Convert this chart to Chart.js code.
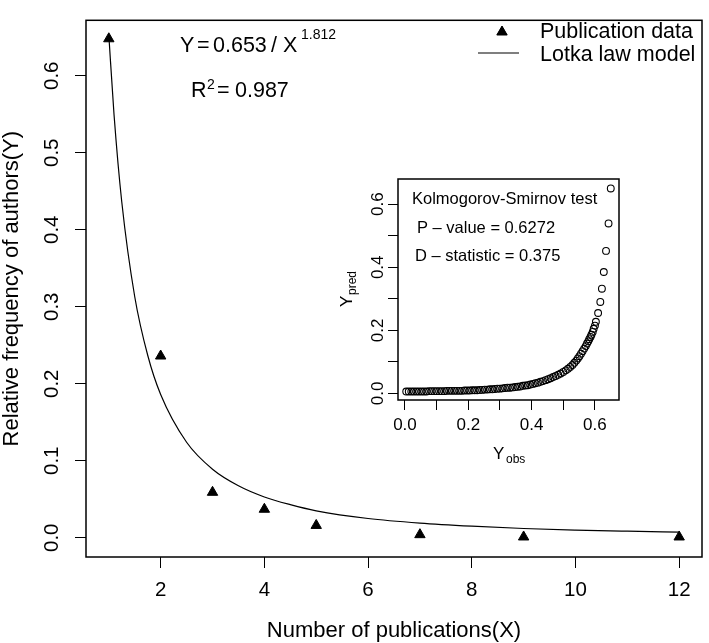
<!DOCTYPE html>
<html>
<head>
    <title>Lotka law fit</title>
    <script src="https://cdn.jsdelivr.net/npm/chart.js@4.4.1/dist/chart.umd.min.js"></script>
    <style>
        body { margin: 0; background: #fff; }
        #wrap { position: relative; width: 709px; height: 643px; }
        #main { position: absolute; left: 0; top: 0; }
        #inset { position: absolute; left: 330px; top: 170px; }
    </style>
</head>
<body>
    <div id="wrap">
        <canvas id="main" width="709" height="643"></canvas>
        <canvas id="inset" width="300" height="300"></canvas>
    </div>

    <script>
        // observed data
        const pubX = [1, 2, 3, 4, 5, 7, 9, 12];
        const pubY = [0.648, 0.236, 0.059, 0.037, 0.016, 0.004, 0.001, 0.001];

        // model curve
        const modelX = [1, 1.1, 1.25, 1.5, 1.75, 2, 2.5, 3, 3.5, 4, 4.5, 5, 6, 7, 8, 9, 10, 11, 12];
        const modelY = [0.653, 0.550, 0.436, 0.313, 0.237, 0.186, 0.124, 0.089, 0.0675, 0.053, 0.043, 0.035,
                        0.025, 0.019, 0.015, 0.012, 0.010, 0.0085, 0.0072];

        const xTicks = [2, 4, 6, 8, 10, 12];
        const yTicks = [0, 0.1, 0.2, 0.3, 0.4, 0.5, 0.6];

        // inset: Kolmogorov-Smirnov plot
        const ksObs = [0.004, 0.012, 0.020, 0.028, 0.036, 0.044, 0.052, 0.060, 0.068, 0.076, 0.084, 0.092,
                       0.100, 0.108, 0.116, 0.124, 0.132, 0.140, 0.148, 0.156, 0.164, 0.172, 0.180, 0.188,
                       0.196, 0.204, 0.212, 0.220, 0.228, 0.236, 0.244, 0.252, 0.260, 0.268, 0.276, 0.284,
                       0.292, 0.300, 0.308, 0.316, 0.324, 0.332, 0.340, 0.348, 0.356, 0.364, 0.372, 0.380,
                       0.388, 0.396, 0.404, 0.412, 0.420, 0.428, 0.436, 0.444, 0.452, 0.460, 0.468, 0.476,
                       0.484, 0.492, 0.500, 0.508, 0.515, 0.522, 0.529, 0.535, 0.541, 0.546, 0.551, 0.556,
                       0.561, 0.566, 0.571, 0.575, 0.579, 0.582, 0.586, 0.589, 0.593, 0.596, 0.600, 0.603,
                       0.610, 0.617, 0.622, 0.628, 0.635, 0.643, 0.650];
        const ksPred = [0.006, 0.006, 0.006, 0.006, 0.006, 0.006, 0.006, 0.006, 0.006, 0.007, 0.007, 0.007,
                        0.007, 0.007, 0.007, 0.007, 0.008, 0.008, 0.008, 0.008, 0.008, 0.008, 0.008, 0.009,
                        0.009, 0.009, 0.010, 0.010, 0.010, 0.011, 0.011, 0.012, 0.012, 0.013, 0.013, 0.014,
                        0.015, 0.015, 0.016, 0.017, 0.018, 0.018, 0.019, 0.020, 0.021, 0.022, 0.024, 0.025,
                        0.026, 0.028, 0.030, 0.032, 0.034, 0.037, 0.039, 0.042, 0.045, 0.048, 0.052, 0.055,
                        0.059, 0.063, 0.068, 0.073, 0.078, 0.084, 0.090, 0.097, 0.104, 0.111, 0.118, 0.126,
                        0.134, 0.142, 0.150, 0.158, 0.165, 0.172, 0.179, 0.186, 0.195, 0.205, 0.215, 0.227,
                        0.255, 0.290, 0.332, 0.385, 0.452, 0.539, 0.650];
        const insetTicks = [0, 0.1, 0.2, 0.3, 0.4, 0.5, 0.6];

        const FONT = "'Liberation Sans', Arial, sans-serif";
        const font = (size) => size + 'px ' + FONT;

        // box round the plot region, like R's bty="o"
        function drawBox(chart, lw) {
            const { ctx, chartArea: a } = chart;
            ctx.save();
            ctx.strokeStyle = '#000';
            ctx.lineWidth = lw;
            ctx.strokeRect(a.left, a.top, a.right - a.left, a.bottom - a.top);
            ctx.restore();
        }

        const mainDecor = {
            id: 'mainDecor',
            afterDraw(chart) {
                drawBox(chart, 1.5);
                const ctx = chart.ctx;
                ctx.save();
                ctx.fillStyle = '#000';
                ctx.textBaseline = 'alphabetic';
                ctx.textAlign = 'left';

                // equation
                ctx.font = font(21.5);
                ctx.fillText('Y', 180, 52);
                ctx.fillText('=', 197, 52);
                ctx.fillText('0.653', 213, 52);
                ctx.fillText('/', 271, 52);
                ctx.fillText('X', 283, 52);
                ctx.font = font(14);
                ctx.fillText('1.812', 301, 39);

                ctx.font = font(21.5);
                ctx.fillText('R', 191, 97);
                ctx.fillText('=', 217, 97);
                ctx.fillText('0.987', 235, 97);
                ctx.font = font(14);
                ctx.fillText('2', 207, 89);

                // legend
                Chart.helpers.drawPoint(ctx, { pointStyle: 'triangle', radius: 6, borderWidth: 1 }, 502, 32);
                ctx.fill();
                ctx.beginPath();
                ctx.strokeStyle = '#000';
                ctx.lineWidth = 1.2;
                ctx.moveTo(478, 53);
                ctx.lineTo(519, 53);
                ctx.stroke();
                ctx.font = font(21.5);
                ctx.fillText('Publication data', 540, 38);
                ctx.fillText('Lotka law model', 540, 61);
                ctx.restore();
            }
        };

        new Chart(document.getElementById('main'), {
            type: 'scatter',
            data: {
                datasets: [{
                    label: 'Lotka law model',
                    data: modelX.map((x, i) => ({ x: x, y: modelY[i] })),
                    showLine: true,
                    pointRadius: 0,
                    borderColor: '#000',
                    borderWidth: 1.2,
                    cubicInterpolationMode: 'monotone',
                    order: 2
                }, {
                    label: 'Publication data',
                    data: pubX.map((x, i) => ({ x: x, y: pubY[i] })),
                    pointStyle: 'triangle',
                    pointRadius: 6,
                    backgroundColor: '#000',
                    borderColor: '#000',
                    borderWidth: 1,
                    order: 1
                }]
            },
            options: {
                responsive: false,
                animation: false,
                layout: { padding: { top: 1, right: 1, left: 0, bottom: 0 } },
                plugins: { legend: { display: false }, tooltip: { enabled: false } },
                scales: {
                    x: {
                        type: 'linear', min: 0.56, max: 12.44,
                        afterBuildTicks: s => { s.ticks = xTicks.map(v => ({ value: v })); },
                        afterFit: s => { s.height = 86; },
                        grid: { drawOnChartArea: false, tickLength: 11, color: '#000', lineWidth: 1 },
                        border: { display: false },
                        ticks: { color: '#000', font: { family: FONT, size: 20.5 }, padding: 10, maxRotation: 0,
                                 callback: v => String(v) },
                        title: { display: true, text: 'Number of publications(X)', color: '#000',
                                 font: { family: FONT, size: 22, lineHeight: 1 }, padding: { top: 0, bottom: 1 } }
                    },
                    y: {
                        type: 'linear', min: -0.025, max: 0.672,
                        afterBuildTicks: s => { s.ticks = yTicks.map(v => ({ value: v })); },
                        afterFit: s => { s.width = 86; },
                        grid: { drawOnChartArea: false, tickLength: 11, color: '#000', lineWidth: 1 },
                        border: { display: false },
                        ticks: { color: '#000', font: { family: FONT, size: 20.5 }, padding: 8,
                                 minRotation: 90, maxRotation: 90, crossAlign: 'center',
                                 callback: v => v.toFixed(1) },
                        title: { display: true, text: 'Relative frequency of authors(Y)', color: '#000',
                                 font: { family: FONT, size: 22, lineHeight: 1 }, padding: { top: 1, bottom: 0 } }
                    }
                }
            },
            plugins: [mainDecor]
        });

        const insetDecor = {
            id: 'insetDecor',
            afterDraw(chart) {
                drawBox(chart, 1.5);
                const ctx = chart.ctx;
                ctx.save();
                ctx.fillStyle = '#000';
                ctx.textAlign = 'left';
                ctx.textBaseline = 'alphabetic';
                ctx.font = font(16.5);
                ctx.fillText('Kolmogorov-Smirnov test', 82, 34);
                ctx.fillText('P \u2013 value = 0.6272', 87, 63);
                ctx.fillText('D \u2013 statistic = 0.375', 85, 91);

                // x title Y_obs
                ctx.font = font(17);
                ctx.fillText('Y', 163, 289);
                ctx.font = font(12);
                ctx.fillText('obs', 176, 293);

                // y title Y_pred, rotated
                ctx.translate(22, 137);
                ctx.rotate(-Math.PI / 2);
                ctx.font = font(17);
                ctx.fillText('Y', 0, 0);
                ctx.font = font(12);
                ctx.fillText('pred', 12, 4);
                ctx.restore();
            }
        };

        new Chart(document.getElementById('inset'), {
            type: 'scatter',
            data: {
                datasets: [{
                    label: 'KS',
                    data: ksObs.map((x, i) => ({ x: x, y: ksPred[i] })),
                    pointStyle: 'circle',
                    pointRadius: 3.4,
                    backgroundColor: 'rgba(0,0,0,0)',
                    borderColor: '#000',
                    borderWidth: 1.1
                }]
            },
            options: {
                responsive: false,
                animation: false,
                layout: { padding: { top: 9, right: 11, left: 0, bottom: 0 } },
                plugins: { legend: { display: false }, tooltip: { enabled: false } },
                scales: {
                    x: {
                        type: 'linear', min: -0.022, max: 0.676,
                        afterBuildTicks: s => { s.ticks = insetTicks.map(v => ({ value: v })); },
                        afterFit: s => { s.height = 70; },
                        grid: { drawOnChartArea: false, tickLength: 10, color: '#000', lineWidth: 1 },
                        border: { display: false },
                        ticks: { color: '#000', font: { family: FONT, size: 17 }, padding: 5, maxRotation: 0,
                                 callback: v => (Math.round(v * 10) % 2 === 0 ? v.toFixed(1) : '') }
                    },
                    y: {
                        type: 'linear', min: -0.021, max: 0.680,
                        afterBuildTicks: s => { s.ticks = insetTicks.map(v => ({ value: v })); },
                        afterFit: s => { s.width = 68; },
                        grid: { drawOnChartArea: false, tickLength: 10, color: '#000', lineWidth: 1 },
                        border: { display: false },
                        ticks: { color: '#000', font: { family: FONT, size: 17 }, padding: -2,
                                 minRotation: 90, maxRotation: 90, crossAlign: 'center',
                                 callback: v => (Math.round(v * 10) % 2 === 0 ? v.toFixed(1) : '') }
                    }
                }
            },
            plugins: [insetDecor]
        });
    </script>
</body>
</html>
